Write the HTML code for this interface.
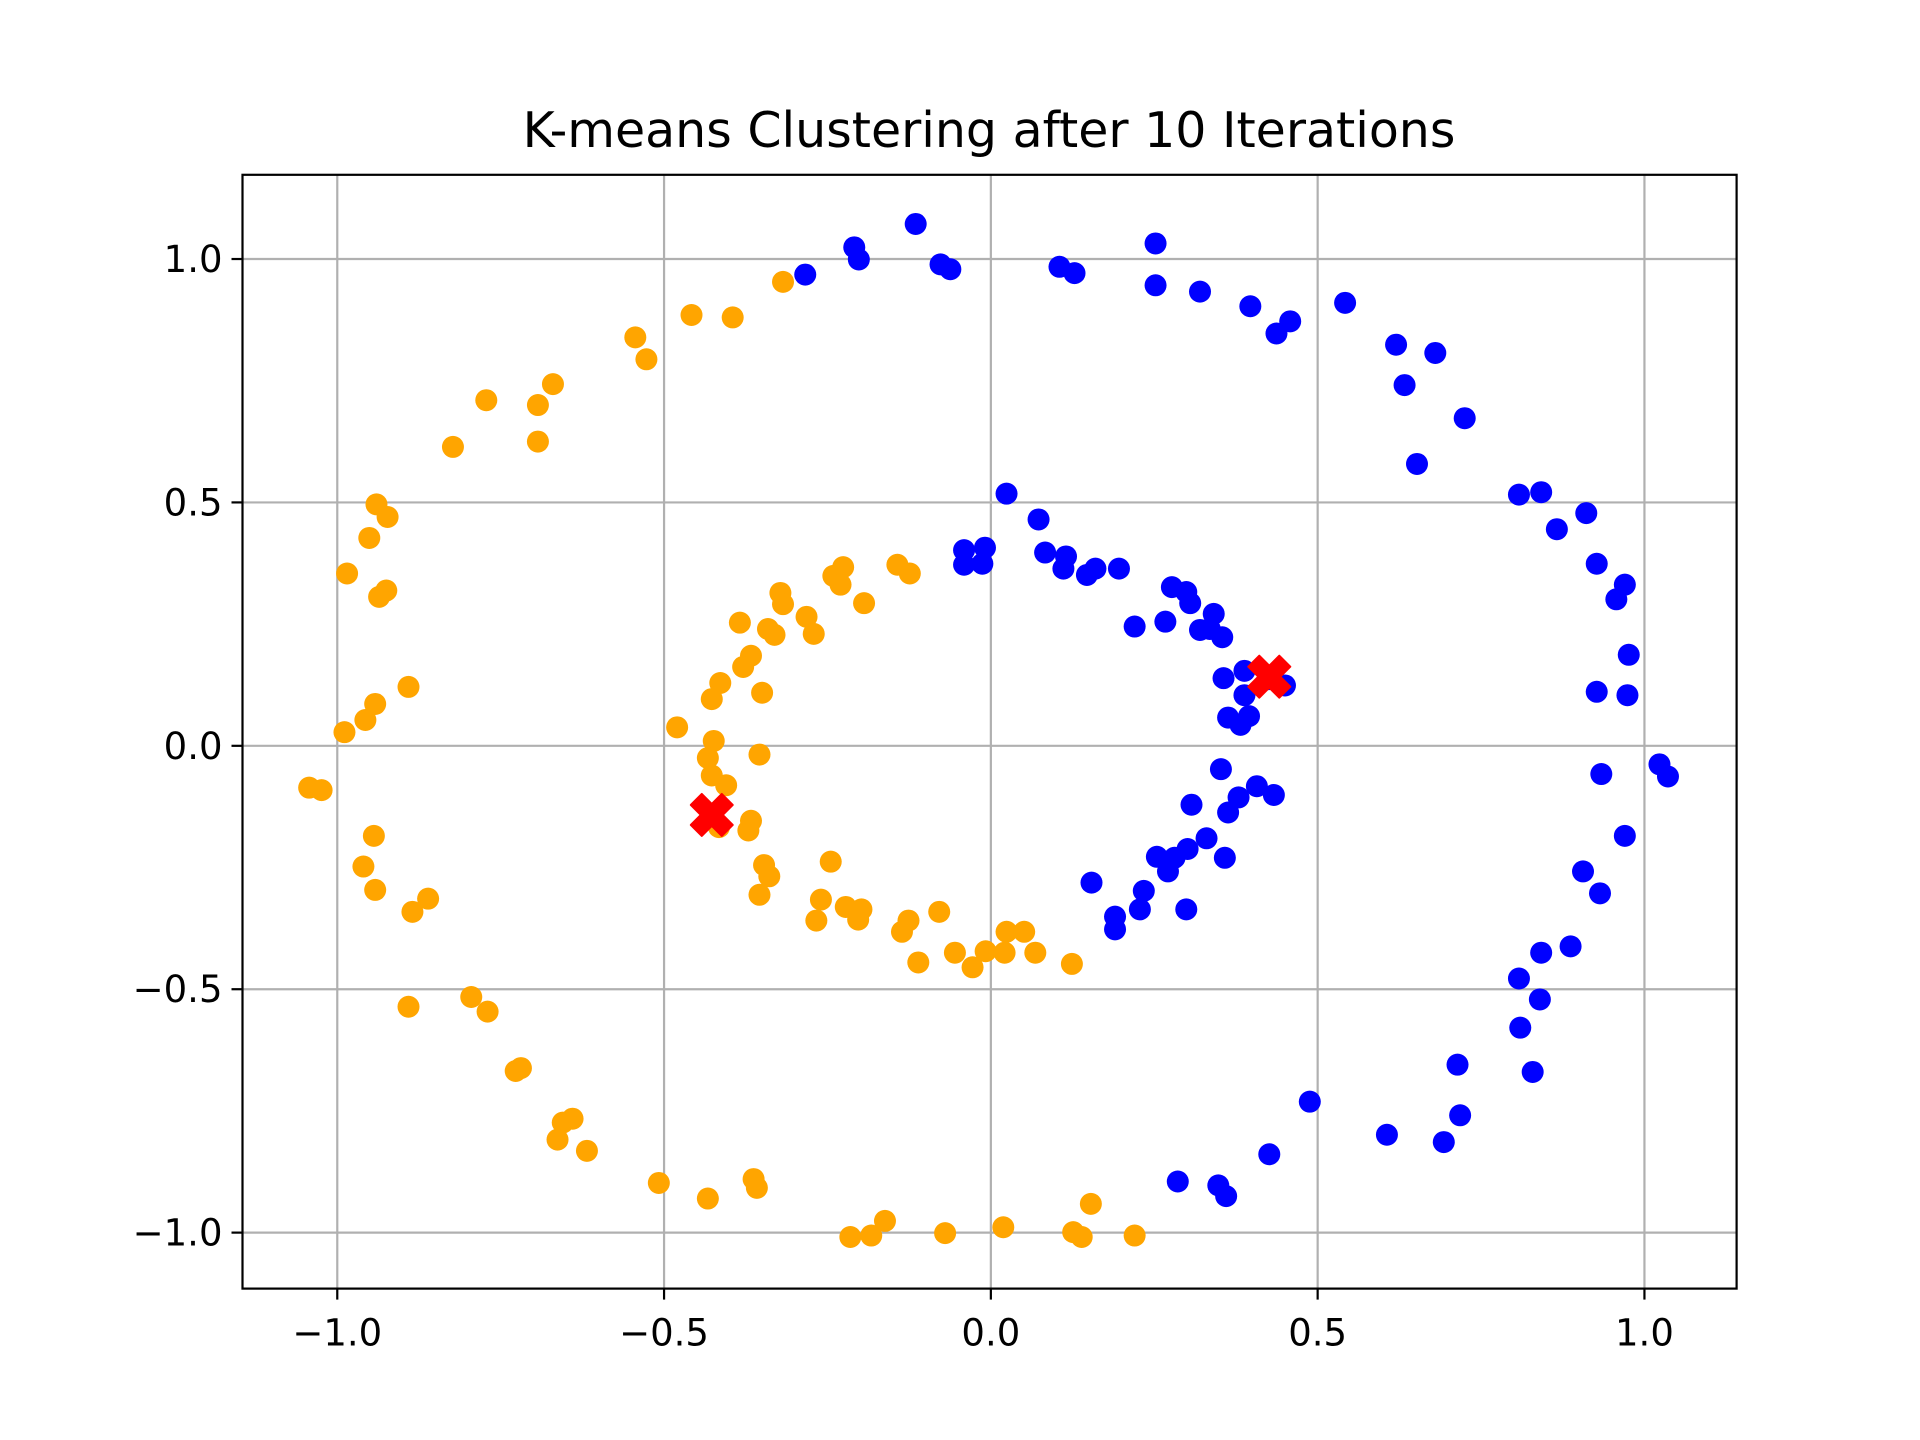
<!DOCTYPE html>
<html><head><meta charset="utf-8"><style>
html,body{margin:0;padding:0;background:#fff}
svg{display:block}
text{font-family:"DejaVu Sans","Liberation Sans",sans-serif;fill:#000}
</style></head><body>
<svg id="chart" width="1920" height="1440" viewBox="0 0 1920 1440">
<rect width="1920" height="1440" fill="#fff"/>
<text x="989" y="147" font-size="49" text-anchor="middle">K-means Clustering after 10 Iterations</text>
<g id="grid"></g><g id="pts"></g><g id="axes"></g>
</svg>
<script>
const xTicks=[-1.0,-0.5,0.0,0.5,1.0];
const yTicks=[-1.0,-0.5,0.0,0.5,1.0];
const xTickLabels=["\u22121.0","\u22120.5","0.0","0.5","1.0"];
const yTickLabels=["\u22121.0","\u22120.5","0.0","0.5","1.0"];
const blueX=[-0.284,-0.209,-0.202,-0.115,-0.077,-0.062,0.105,0.128,0.252,0.252,0.320,0.397,0.437,0.458,0.542,0.620,0.633,0.680,0.652,0.725,0.808,0.842,0.866,0.911,0.927,0.970,0.957,0.976,0.927,0.974,1.023,1.036,0.934,0.970,0.906,0.932,0.887,0.842,0.840,0.808,0.810,0.829,0.714,0.718,0.693,0.606,0.488,0.426,0.348,0.360,0.286,
0.024,0.073,0.083,0.115,0.111,0.147,0.160,0.196,-0.041,-0.009,-0.041,-0.013,0.220,0.267,0.277,0.299,0.305,0.341,0.320,0.335,0.354,0.388,0.356,0.388,0.424,0.450,0.363,0.395,0.382,0.352,0.407,0.433,0.379,0.363,0.307,0.330,0.301,0.281,0.254,0.358,0.271,0.234,0.228,0.299,0.154,0.190,0.190];
const blueY=[0.968,1.024,0.999,1.072,0.989,0.979,0.984,0.971,1.032,0.946,0.933,0.903,0.847,0.872,0.910,0.824,0.741,0.807,0.579,0.673,0.516,0.521,0.445,0.478,0.374,0.331,0.301,0.187,0.111,0.104,-0.038,-0.063,-0.058,-0.185,-0.258,-0.303,-0.412,-0.425,-0.521,-0.478,-0.579,-0.670,-0.655,-0.759,-0.814,-0.799,-0.731,-0.839,-0.903,-0.925,-0.895,
0.518,0.465,0.397,0.389,0.364,0.351,0.364,0.364,0.402,0.407,0.372,0.374,0.245,0.255,0.326,0.316,0.293,0.271,0.238,0.240,0.223,0.154,0.139,0.104,0.137,0.124,0.058,0.061,0.043,-0.048,-0.083,-0.101,-0.106,-0.137,-0.121,-0.190,-0.212,-0.230,-0.228,-0.230,-0.258,-0.298,-0.336,-0.336,-0.281,-0.351,-0.377];
const orangeX=[-0.318,-0.458,-0.395,-0.544,-0.527,-0.670,-0.772,-0.693,-0.693,-0.823,-0.940,-0.923,-0.951,-0.985,-0.925,-0.936,-0.891,-0.942,-0.957,-0.989,-1.043,-1.024,-0.944,-0.960,-0.942,-0.861,-0.885,-0.891,-0.795,-0.770,-0.727,-0.719,-0.640,-0.655,-0.663,-0.618,-0.508,-0.433,-0.363,-0.358,-0.215,-0.183,-0.162,-0.070,0.019,0.126,0.139,0.153,0.220,
-0.322,-0.318,-0.384,-0.341,-0.331,-0.367,-0.379,-0.414,-0.427,-0.350,-0.480,-0.424,-0.433,-0.427,-0.405,-0.354,-0.416,-0.367,-0.371,-0.347,-0.339,-0.354,-0.282,-0.271,-0.241,-0.226,-0.230,-0.194,-0.143,-0.124,-0.245,-0.260,-0.267,-0.222,-0.203,-0.198,-0.126,-0.136,-0.079,-0.111,-0.055,-0.028,-0.008,0.021,0.024,0.051,0.068,0.124];
const orangeY=[0.953,0.885,0.880,0.839,0.794,0.743,0.710,0.700,0.625,0.614,0.496,0.470,0.427,0.354,0.319,0.306,0.121,0.086,0.053,0.028,-0.086,-0.091,-0.185,-0.248,-0.296,-0.314,-0.341,-0.536,-0.516,-0.546,-0.668,-0.662,-0.766,-0.774,-0.809,-0.832,-0.898,-0.930,-0.890,-0.908,-1.009,-1.006,-0.976,-1.001,-0.989,-0.999,-1.009,-0.941,-1.006,
0.314,0.291,0.253,0.240,0.228,0.185,0.162,0.129,0.096,0.109,0.038,0.010,-0.025,-0.061,-0.081,-0.018,-0.167,-0.154,-0.174,-0.245,-0.268,-0.306,0.265,0.230,0.349,0.367,0.331,0.293,0.372,0.354,-0.238,-0.316,-0.359,-0.331,-0.357,-0.336,-0.359,-0.382,-0.341,-0.445,-0.425,-0.455,-0.422,-0.425,-0.382,-0.382,-0.425,-0.448];
const centroidX=[-0.427,0.426];
const centroidY=[-0.142,0.142];

const L=242.5,R=1736.6,T=174.8,B=1288.6;
const XMIN=-1.145,XMAX=1.141,YMIN=-1.115,YMAX=1.173;
const sx=v=>L+(v-XMIN)/(XMAX-XMIN)*(R-L);
const sy=v=>B-(v-YMIN)/(YMAX-YMIN)*(B-T);
const NS="http://www.w3.org/2000/svg";
function mk(tag,attrs,parent){const e=document.createElementNS(NS,tag);for(const k in attrs)e.setAttribute(k,attrs[k]);parent.appendChild(e);return e;}
const grid=document.getElementById('grid'),pts=document.getElementById('pts'),axes=document.getElementById('axes');
xTicks.forEach((t,i)=>{
  const x=sx(t);
  const g=mk('line',{x1:x,x2:x,y1:T,y2:B,stroke:'#b0b0b0','stroke-width':2.2},grid);
  
  
  const tk=mk('line',{x1:x,x2:x,y1:B,y2:B+11,stroke:'#000','stroke-width':2.2},axes);
  
  
  const tl=mk('text',{x:x,y:B+57,'font-size':37,'text-anchor':'middle'},axes);
  tl.textContent=xTickLabels[i];
  
  
});
yTicks.forEach((t,i)=>{
  const y=sy(t);
  const g=mk('line',{x1:L,x2:R,y1:y,y2:y,stroke:'#b0b0b0','stroke-width':2.2},grid);
  
  
  const tk=mk('line',{x1:L-11,x2:L,y1:y,y2:y,stroke:'#000','stroke-width':2.2},axes);
  
  
  const tl=mk('text',{x:L-20,y:y+13,'font-size':37,'text-anchor':'end'},axes);
  tl.textContent=yTickLabels[i];
  
  
});
blueX.forEach((v,i)=>{
  const c=mk('circle',{cx:sx(v),cy:sy(blueY[i]),r:11,fill:'#0000ff'},pts);
  
  
});
orangeX.forEach((v,i)=>{
  const c=mk('circle',{cx:sx(v),cy:sy(orangeY[i]),r:11,fill:'#ffa500'},pts);
  
  
});
centroidX.forEach((v,i)=>{
  const cx=sx(v),cy=sy(centroidY[i]),a=21,w=11;
  const d=`M${cx-a+w},${cy-a} L${cx},${cy-w} L${cx+a-w},${cy-a} L${cx+a},${cy-a+w} L${cx+w},${cy} L${cx+a},${cy+a-w} L${cx+a-w},${cy+a} L${cx},${cy+w} L${cx-a+w},${cy+a} L${cx-a},${cy+a-w} L${cx-w},${cy} L${cx-a},${cy-a+w} Z`;
  const p=mk('path',{d:d,fill:'#ff0000',stroke:'#ff0000','stroke-width':2,'stroke-linejoin':'round'},pts);
  
  
});
const fr=mk('rect',{x:L,y:T,width:R-L,height:B-T,fill:'none',stroke:'#000','stroke-width':2.2},axes);


</script>
</body></html>
